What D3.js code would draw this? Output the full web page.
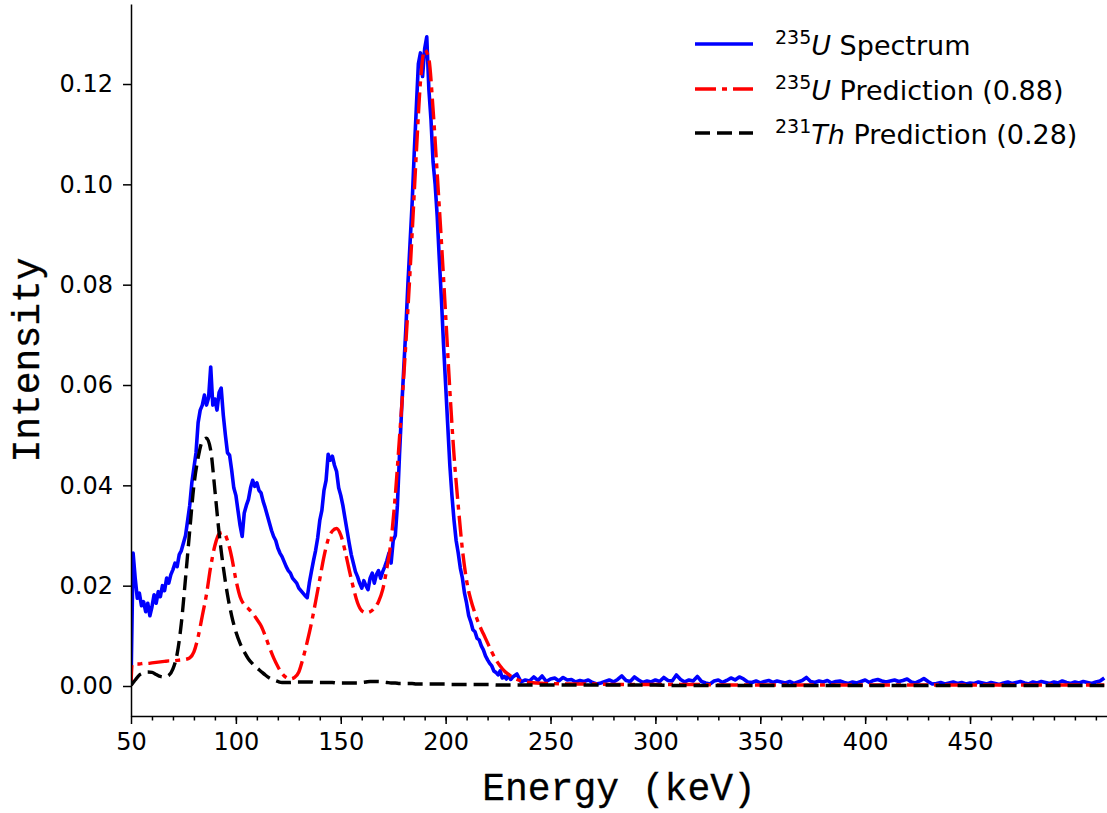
<!DOCTYPE html>
<html>
<head>
<meta charset="utf-8">
<script src="https://cdn.jsdelivr.net/npm/d3@7"></script>
<style>
    body { margin: 0; background: #fff; }
    .axis text { font-family: "DejaVu Sans"; font-size: 24px; fill: #000; }
    .axis path, .axis line { stroke: #000; stroke-width: 1.5px; }
    .label { font-family: "Courier New", "Liberation Mono", Cousine, "Nimbus Mono PS", FreeMono, Courier, monospace;
             font-size: 38px; fill: #000; stroke: #000; stroke-width: 0.3px; }
    .legend text { font-family: "DejaVu Sans"; font-size: 27px; fill: #000; white-space: pre; }
</style>
</head>
<body>
<div id="canvas"></div>
<script>
// measured 235U spectrum, 1 keV bins from 50 to 231 keV
var spectrumLow = [
    0.0000, 0.0265, 0.0215, 0.0175, 0.0185, 0.0160, 0.0168, 0.0148, 0.0165, 0.0140,
    0.0158, 0.0182, 0.0165, 0.0188, 0.0178, 0.0200, 0.0190, 0.0215, 0.0205, 0.0222,
    0.0232, 0.0245, 0.0238, 0.0262, 0.0270, 0.0285, 0.0300, 0.0330, 0.0360, 0.0405,
    0.0435, 0.0465, 0.0525, 0.0550, 0.0560, 0.0580, 0.0560, 0.0575, 0.0636, 0.0560,
    0.0572, 0.0550, 0.0585, 0.0594, 0.0540, 0.0500, 0.0465, 0.0460, 0.0430, 0.0395,
    0.0380, 0.0350, 0.0320, 0.0298, 0.0345, 0.0360, 0.0372, 0.0395, 0.0410, 0.0398,
    0.0405, 0.0390, 0.0385, 0.0368, 0.0355, 0.0340, 0.0325, 0.0310, 0.0298, 0.0290,
    0.0275, 0.0265, 0.0258, 0.0248, 0.0238, 0.0230, 0.0225, 0.0215, 0.0210, 0.0205,
    0.0195, 0.0190, 0.0185, 0.0180, 0.0176, 0.0205, 0.0228, 0.0250, 0.0270, 0.0295,
    0.0330, 0.0350, 0.0390, 0.0410, 0.0462, 0.0450, 0.0458, 0.0440, 0.0428, 0.0395,
    0.0380, 0.0360, 0.0335, 0.0310, 0.0285, 0.0262, 0.0245, 0.0228, 0.0218, 0.0205,
    0.0195, 0.0210, 0.0200, 0.0192, 0.0215, 0.0225, 0.0205, 0.0222, 0.0230, 0.0215,
    0.0228, 0.0238, 0.0250, 0.0265, 0.0245, 0.0290, 0.0300, 0.0360, 0.0460, 0.0550,
    0.0630, 0.0710, 0.0800, 0.0880, 0.0960, 0.1060, 0.1150, 0.1240, 0.1262, 0.1215,
    0.1270, 0.1294, 0.1190, 0.1130, 0.1045, 0.1000, 0.0935, 0.0850, 0.0770, 0.0680,
    0.0600, 0.0520, 0.0440, 0.0380, 0.0330, 0.0290, 0.0265, 0.0235, 0.0215, 0.0185,
    0.0165, 0.0140, 0.0128, 0.0112, 0.0108, 0.0095, 0.0092, 0.0080, 0.0072, 0.0060,
    0.0052, 0.0045, 0.0040, 0.0030, 0.0027, 0.0022, 0.0030, 0.0016, 0.0019, 0.0014,
    0.0022, 0.0013
];
// 2 keV bins from 232 to 514 keV
var spectrumHigh = [
    0.0018, 0.0024, 0.0008, 0.0012, 0.0010, 0.0018, 0.0011, 0.0020, 0.0009, 0.0014,
    0.0016, 0.0010, 0.0017, 0.0012, 0.0013, 0.0008, 0.0011, 0.0009, 0.0012, 0.0007,
    0.0004, 0.0006, 0.0009, 0.0012, 0.0008, 0.0013, 0.0020, 0.0011, 0.0009, 0.0018,
    0.0012, 0.0007, 0.0010, 0.0008, 0.0012, 0.0009, 0.0017, 0.0011, 0.0010, 0.0022,
    0.0013, 0.0008, 0.0012, 0.0010, 0.0019, 0.0009, 0.0006, 0.0004, 0.0010, 0.0012,
    0.0007, 0.0011, 0.0016, 0.0012, 0.0018, 0.0014, 0.0008, 0.0007, 0.0010, 0.0006,
    0.0009, 0.0011, 0.0007, 0.0010, 0.0008, 0.0006, 0.0009, 0.0005, 0.0008, 0.0011,
    0.0017, 0.0009, 0.0007, 0.0010, 0.0008, 0.0011, 0.0006, 0.0009, 0.0010, 0.0007,
    0.0005, 0.0008, 0.0006, 0.0009, 0.0012, 0.0007, 0.0011, 0.0013, 0.0010, 0.0008,
    0.0010, 0.0012, 0.0009, 0.0011, 0.0014, 0.0008, 0.0006, 0.0010, 0.0015, 0.0009,
    0.0004, 0.0005, 0.0007, 0.0004, 0.0006, 0.0008, 0.0005, 0.0007, 0.0004, 0.0006,
    0.0005, 0.0008, 0.0006, 0.0004, 0.0007, 0.0005, 0.0003, 0.0006, 0.0008, 0.0005,
    0.0007, 0.0009, 0.0006, 0.0004, 0.0008, 0.0006, 0.0009, 0.0007, 0.0005, 0.0008,
    0.0006, 0.0010, 0.0007, 0.0005, 0.0008, 0.0006, 0.0009, 0.0007, 0.0005, 0.0008,
    0.0010, 0.0016
];
var spectrumEnergy = d3.range(50, 232).concat(d3.range(232, 515, 2));
var spectrum = spectrumLow.concat(spectrumHigh);

// predictions
var predEnergy = [50, 50.5].concat(d3.range(52, 241, 2), d3.range(250, 511, 10), [514]);
var uPred = [
    0.0000, 0.0043,
    0.0044, 0.0044, 0.0045, 0.0045, 0.0046, 0.0047, 0.0048, 0.0049, 0.0050, 0.0050,
    0.0051, 0.0052, 0.0053, 0.0056, 0.0068, 0.0098, 0.0140, 0.0183, 0.0238, 0.0280,
    0.0303, 0.0306, 0.0290, 0.0257, 0.0212, 0.0178, 0.0162, 0.0154, 0.0145, 0.0133,
    0.0120, 0.0100, 0.0077, 0.0056, 0.0039, 0.0025, 0.0017, 0.0014, 0.0017, 0.0028,
    0.0055, 0.0088, 0.0125, 0.0168, 0.0213, 0.0258, 0.0292, 0.0309, 0.0314, 0.0301,
    0.0270, 0.0232, 0.0196, 0.0166, 0.0150, 0.0146, 0.0148, 0.0155, 0.0168, 0.0192,
    0.0235, 0.0290, 0.0380, 0.0495, 0.0615, 0.0750, 0.0900, 0.1060, 0.1205, 0.1268,
    0.1250, 0.1150, 0.1020, 0.0885, 0.0740, 0.0590, 0.0460, 0.0360, 0.0272, 0.0210,
    0.0172, 0.0145, 0.0122, 0.0104, 0.0086, 0.0068, 0.0052, 0.0040, 0.0030, 0.0023,
    0.0017, 0.0013, 0.0010, 0.0008, 0.0007,
    0.0005, 0.0004, 0.0004, 0.0003, 0.0003, 0.0003, 0.0003, 0.0003, 0.0002, 0.0002,
    0.0002, 0.0002, 0.0002, 0.0002, 0.0002, 0.0002, 0.0002, 0.0002, 0.0002, 0.0002,
    0.0002, 0.0002, 0.0002, 0.0002, 0.0002, 0.0002, 0.0002, 0.0002
];
var thPred = [
    0.0002, 0.0004,
    0.0012, 0.0022, 0.0026, 0.0028, 0.0027, 0.0023, 0.0019, 0.0018, 0.0021, 0.0034,
    0.0064, 0.0125, 0.0215, 0.0310, 0.0400, 0.0455, 0.0488, 0.0494, 0.0470, 0.0390,
    0.0305, 0.0237, 0.0182, 0.0140, 0.0108, 0.0085, 0.0068, 0.0054, 0.0044, 0.0036,
    0.0029, 0.0022, 0.0016, 0.0012, 0.0009, 0.0007, 0.0007, 0.0007, 0.0008, 0.0008,
    0.0008, 0.0008, 0.0008, 0.0007, 0.0007, 0.0007, 0.0007, 0.0007, 0.0006, 0.0006,
    0.0006, 0.0006, 0.0006, 0.0006, 0.0007, 0.0008, 0.0009, 0.0009, 0.0009, 0.0008,
    0.0007, 0.0006, 0.0006, 0.0005, 0.0005, 0.0005, 0.0005, 0.0004, 0.0004, 0.0004,
    0.0004, 0.0004, 0.0004, 0.0004, 0.0004, 0.0003, 0.0003, 0.0003, 0.0003, 0.0003,
    0.0003, 0.0003, 0.0003, 0.0003, 0.0003, 0.0003, 0.0002, 0.0002, 0.0002, 0.0002,
    0.0002, 0.0002, 0.0002, 0.0002, 0.0002,
    0.0002, 0.0002, 0.0002, 0.0002, 0.0002, 0.0002, 0.0001, 0.0001, 0.0001, 0.0001,
    0.0001, 0.0001, 0.0001, 0.0001, 0.0001, 0.0001, 0.0001, 0.0001, 0.0001, 0.0001,
    0.0001, 0.0001, 0.0001, 0.0001, 0.0001, 0.0001, 0.0001, 0.0001
];

var xTicks = [50, 100, 150, 200, 250, 300, 350, 400, 450];
var xMinorTicks = d3.range(60, 515, 10);
var yTicks = [0, 0.02, 0.04, 0.06, 0.08, 0.10, 0.12];

var legendIsotope = ['235', '235', '231'];
var legendSymbol = ['U', 'U', 'Th'];
var legendText = [' Spectrum', ' Prediction (0.88)', ' Prediction (0.28)'];

const w = 1107;
const h = 813;
const padLeft = 131, padRight = 1107, padTop = 4, padBottom = 716;

const svg = d3.select('#canvas')
    .append('svg')
    .attr('width', w)
    .attr('height', h);

var x = d3.scaleLinear().domain([50, 515.3]).range([padLeft, padRight]);
var y = d3.scaleLinear().domain([-0.00598, 0.13595]).range([padBottom, padTop]);

svg.append('clipPath').attr('id', 'plot')
    .append('rect')
    .attr('x', padLeft).attr('y', padTop)
    .attr('width', padRight - padLeft).attr('height', padBottom - padTop);

var styles = [
    { color: '#0000ff', dash: null, width: 3.6 },
    { color: '#ff0000', dash: '21,6,5,6', width: 3.4 },
    { color: '#000000', dash: '15,7', width: 3.4 }
];

var series = [
    { xs: spectrumEnergy, ys: spectrum, curve: d3.curveLinear },
    { xs: predEnergy, ys: uPred, curve: d3.curveMonotoneX },
    { xs: predEnergy, ys: thPred, curve: d3.curveMonotoneX }
];

var plot = svg.append('g').attr('clip-path', 'url(#plot)');

series.forEach((s, i) => {
    var line = d3.line()
        .x((d, j) => x(s.xs[j]))
        .y(d => y(d))
        .curve(s.curve);
    plot.append('path')
        .attr('d', line(s.ys))
        .attr('fill', 'none')
        .attr('stroke', styles[i].color)
        .attr('stroke-width', styles[i].width)
        .attr('stroke-linejoin', 'round')
        .attr('stroke-dasharray', styles[i].dash);
});

// axes
svg.append('g')
    .attr('class', 'axis')
    .attr('transform', `translate(0,${padBottom})`)
    .call(d3.axisBottom(x).tickValues(xMinorTicks).tickSize(4.5).tickFormat(''))
    .call(g => g.select('.domain').remove());

svg.append('g')
    .attr('class', 'axis')
    .attr('transform', `translate(0,${padBottom})`)
    .call(d3.axisBottom(x).tickValues(xTicks).tickSize(8).tickPadding(9).tickSizeOuter(0)
        .tickFormat(d3.format('d')));

svg.append('g')
    .attr('class', 'axis')
    .attr('transform', `translate(${padLeft},0)`)
    .call(d3.axisLeft(y).tickValues(yTicks).tickSize(8).tickPadding(10).tickSizeOuter(0)
        .tickFormat(d3.format('.2f')));

svg.append('text')
    .attr('class', 'label')
    .attr('x', (padLeft + padRight) / 2)
    .attr('y', 800)
    .attr('text-anchor', 'middle')
    .text('Energy (keV)');

svg.append('text')
    .attr('class', 'label')
    .attr('transform', `translate(39,${(padTop + padBottom) / 2}) rotate(-90)`)
    .attr('text-anchor', 'middle')
    .text('Intensity');

// legend
var legend = svg.append('g').attr('class', 'legend');
var rowY = [44, 89, 133];
legendText.forEach((t, i) => {
    legend.append('line')
        .attr('x1', 695).attr('x2', 753)
        .attr('y1', rowY[i]).attr('y2', rowY[i])
        .attr('stroke', styles[i].color)
        .attr('stroke-width', styles[i].width)
        .attr('stroke-dasharray', styles[i].dash);
    var txt = legend.append('text')
        .attr('x', 775)
        .attr('y', rowY[i] + 11);
    txt.append('tspan').attr('font-size', '19px').attr('dy', -11).text(legendIsotope[i]);
    txt.append('tspan').attr('font-style', 'italic').attr('dy', 11).text(legendSymbol[i]);
    txt.append('tspan').text(t);
});
</script>
</body>
</html>
